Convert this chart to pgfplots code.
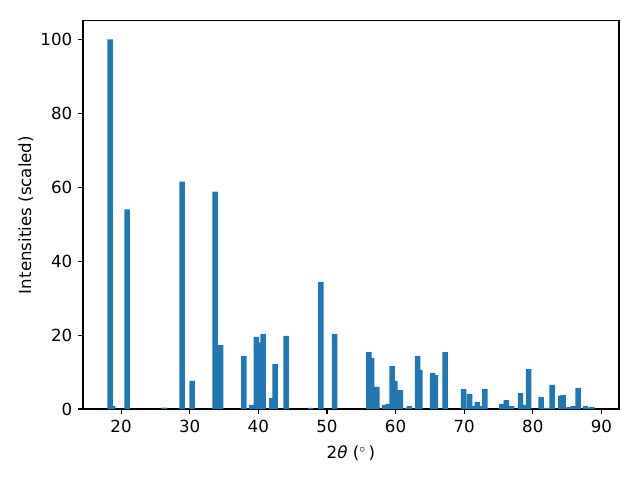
\documentclass[border=0pt]{standalone}
\usepackage{fontspec}
\setmainfont{DejaVu Sans}
\usepackage{pgfplots}
\pgfplotsset{compat=1.18}
\definecolor{mplblue}{HTML}{1F77B4}
\begin{document}
\fontsize{12}{14}\selectfont
\begin{tikzpicture}
\begin{axis}[
  scale only axis,
  width=385.9pt, height=279.4pt,
  xmin=14.45, xmax=92.55, ymin=0, ymax=105,
  xtick={20,30,40,50,60,70,80,90},
  ytick={0,20,40,60,80,100},
  tick pos=left,
  tick align=outside,
  major tick length=3.5pt,
  every tick/.style={black, line width=0.8pt},
  axis line style={line width=0.8pt},
  /pgf/number format/assume math mode=true,
  ticklabel style={font=\fontsize{12}{14}\selectfont},
  label style={font=\fontsize{12}{14}\selectfont},
  xlabel={2\textit{θ} ({}$^{\circ}$\,)},
  ylabel={Intensities (scaled)},
  xlabel style={yshift=-1.5pt},
  ylabel style={yshift=-3pt},
  ybar, bar width=0.8,
]
\addplot[draw=none, fill=mplblue, bar shift=0pt] coordinates {
(18.4,100) (18.75,0.8) (20.87,54) (26.3,0.35) (28.9,61.5) (30.35,7.6)
(33.7,58.8) (34.5,17.3) (37.9,14.4) (39.07,1.1) (39.7,19.5) (40.55,18)
(40.7,20.3) (41.98,3.0) (42.46,12.2) (44.06,19.8) (47.6,0.3) (49.1,34.4)
(51.1,20.3) (56.1,15.4) (56.5,13.8) (56.85,1.6) (57.26,6.0) (58.4,1.1)
(58.9,1.4) (59.5,11.7) (59.9,7.6) (60.7,5.1) (61.8,0.3) (62.0,0.8)
(63.2,14.4) (63.55,10.6) (65.4,9.8) (65.8,9.2) (67.2,15.4) (69.9,5.4)
(70.4,0.3) (70.8,4.1) (71.3,0.8) (71.9,1.9) (72.5,0.8) (73.0,5.4)
(75.5,1.4) (76.15,2.4) (76.9,0.8) (78.2,4.3) (78.75,1.1) (79.4,10.8)
(81.2,3.3) (82.0,0.3) (82.8,6.5) (84.1,3.6) (84.4,3.8) (85.3,0.6)
(85.9,0.8) (86.6,5.7) (87.7,0.8) (88.1,0.2) (88.6,0.5)
};
\end{axis}
\path (-59.76pt,-51.12pt) rectangle (401.04pt,294.48pt);
\end{tikzpicture}
\end{document}
